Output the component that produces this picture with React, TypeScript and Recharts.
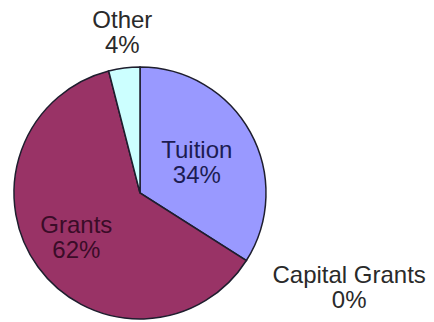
import { Cell, Pie, PieChart } from "recharts";

const categories = ["Tuition", "Capital Grants", "Grants", "Other"];
const shares = [34, 0, 62, 4];
const colors = ["#9999FF", "#993366", "#993366", "#CCFFFF"];

const rows = categories.map((name, i) => ({ name, value: shares[i] }));

// where each label sits: radius from centre, plus a small nudge
const labelPos: Record<string, { r: number; dx: number; dy: number; fill: string }> = {
  Tuition: { r: 66, dx: -1, dy: -3, fill: "#1c1c52" },
  "Capital Grants": { r: 166, dx: 69, dy: 1, fill: "#2a2a2a" },
  Grants: { r: 75, dx: -3, dy: -4, fill: "#3a0c28" },
  Other: { r: 165, dx: 3, dy: -1, fill: "#2a2a2a" },
};

const RAD = Math.PI / 180;

function SliceLabel(props: any) {
  const { cx, cy, midAngle, name, value } = props;
  const p = labelPos[name];
  if (!p) return null;
  const x = cx + p.r * Math.cos(-midAngle * RAD) + p.dx;
  const y = cy + p.r * Math.sin(-midAngle * RAD) + p.dy;
  return (
    <text x={x} y={y} textAnchor="middle" fill={p.fill}
      fontFamily="'Liberation Sans', Arial, sans-serif" fontSize={24}>
      <tspan x={x} y={y}>{name}</tspan>
      <tspan x={x} y={y + 25}>{`${value}%`}</tspan>
    </text>
  );
}

export default function App() {
  return (
    <div style={{ position: "absolute", left: 0, top: 0, background: "#fff" }}>
      <PieChart width={434} height={322} margin={{ top: 0, right: 0, bottom: 0, left: 0 }}>
        <Pie
          data={rows} dataKey="value" nameKey="name"
          cx={140} cy={193} outerRadius={126}
          startAngle={90} endAngle={-270}
          stroke="#1e1e2e" strokeWidth={1.5}
          label={SliceLabel} labelLine={false}
          isAnimationActive={false}
        >
          {rows.map((r, i) => <Cell key={r.name} fill={colors[i]} />)}
        </Pie>
      </PieChart>
    </div>
  );
}
